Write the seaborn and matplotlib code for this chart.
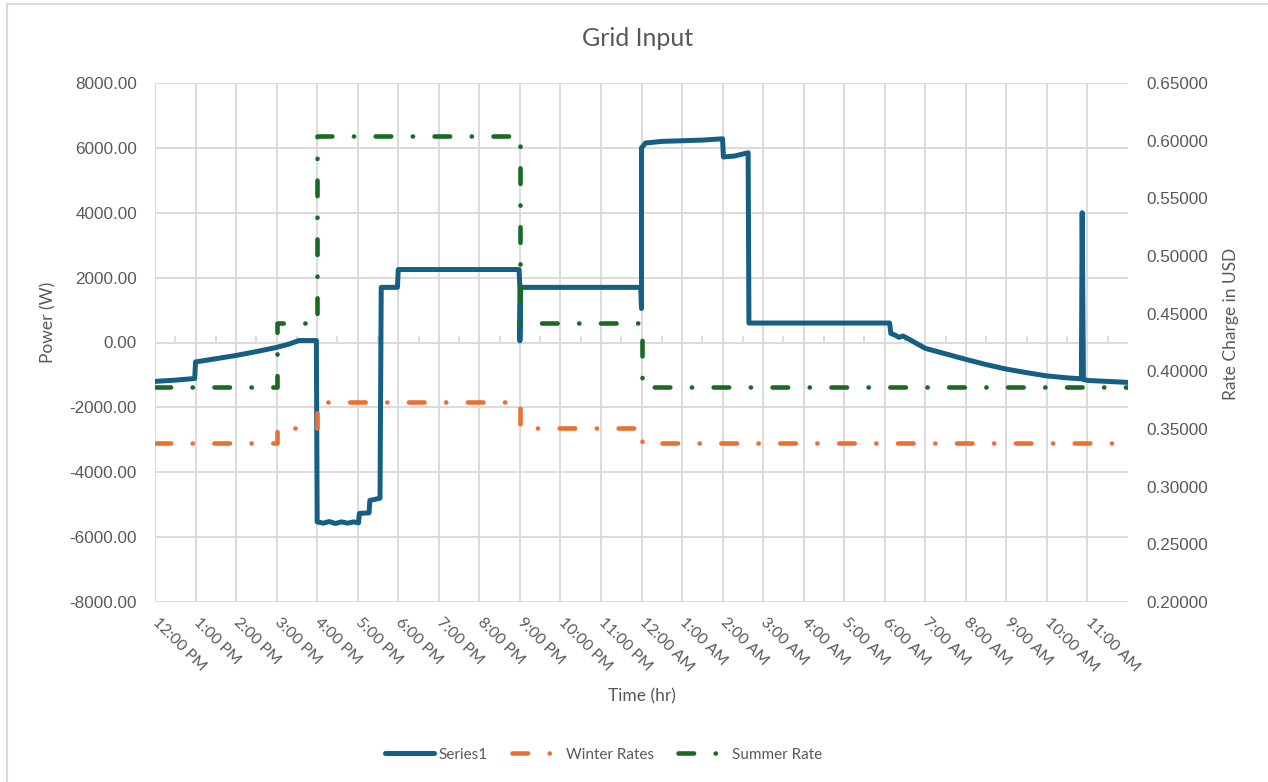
import numpy as np
import pandas as pd
import matplotlib
matplotlib.use("Agg")
import matplotlib.pyplot as plt
import seaborn as sns

# jam sejak 12:00 PM (0 = 12:00 PM, 24 = 12:00 PM besoknya)
jam_series1 = [0.00, 0.50, 0.98, 1.00, 1.50, 2.00, 2.50, 3.00, 3.30, 3.55, 3.75, 3.98,
               4.00, 4.15, 4.30, 4.45, 4.60, 4.75, 4.90, 5.02, 5.04, 5.28, 5.30, 5.55,
               5.58, 5.98, 6.00, 8.98, 9.00, 9.00, 9.02, 11.98, 12.00, 12.00, 12.10,
               12.50, 13.00, 13.50, 14.00, 14.02, 14.30, 14.63, 14.65, 18.12, 18.15,
               18.25, 18.35, 18.45, 18.60, 19.00, 19.50, 20.00, 20.50, 21.00, 21.50,
               22.00, 22.50, 22.85, 22.87, 22.90, 23.00, 23.50, 24.00]
daya_series1 = [-1200, -1160, -1110, -600, -500, -400, -280, -150, -50, 60, 60, 60,
                -5530, -5570, -5520, -5580, -5530, -5570, -5530, -5560, -5270, -5250, -4870, -4800,
                1700, 1700, 2250, 2250, 1700, 50, 1700, 1700, 1050, 6000, 6150,
                6200, 6220, 6240, 6280, 5720, 5750, 5850, 600, 600, 280,
                230, 160, 200, 100, -180, -350, -520, -680, -820, -930,
                -1030, -1090, -1120, 4000, -1140, -1170, -1200, -1230]

jam_tarif = [0, 3, 3, 4, 4, 9, 9, 12, 12, 24]
tarif_winter = [0.338, 0.338, 0.351, 0.351, 0.373, 0.373, 0.351, 0.351, 0.338, 0.338]
tarif_summer = [0.386, 0.386, 0.442, 0.442, 0.604, 0.604, 0.442, 0.442, 0.386, 0.386]

label_jam = ["12:00 PM", "1:00 PM", "2:00 PM", "3:00 PM", "4:00 PM", "5:00 PM",
             "6:00 PM", "7:00 PM", "8:00 PM", "9:00 PM", "10:00 PM", "11:00 PM",
             "12:00 AM", "1:00 AM", "2:00 AM", "3:00 AM", "4:00 AM", "5:00 AM",
             "6:00 AM", "7:00 AM", "8:00 AM", "9:00 AM", "10:00 AM", "11:00 AM"]

biru = "#156082"
oranye = "#E97132"
hijau = "#196B24"
abu = "#595959"
grid = "#d9d9d9"

sns.set_style("white")
plt.rcParams["font.family"] = ["Lato", "DejaVu Sans"]

fig = plt.figure(figsize=(12.68, 7.82), dpi=100)
ax = fig.add_axes([155 / 1268, 1 - 602 / 782, (1128 - 155) / 1268, (602 - 83) / 782])
ax2 = ax.twinx()

# garis
pola = (0, (3.4, 4.7, 0.05, 4.7))
sns.lineplot(x=jam_series1, y=daya_series1, ax=ax, sort=False, estimator=None,
             color=biru, lw=3.6, solid_joinstyle="round", solid_capstyle="round")
sns.lineplot(x=jam_tarif, y=tarif_winter, ax=ax2, sort=False, estimator=None,
             color=oranye, lw=3.3, linestyle=pola, dash_capstyle="round")
sns.lineplot(x=jam_tarif, y=tarif_summer, ax=ax2, sort=False, estimator=None,
             color=hijau, lw=3.3, linestyle=pola, dash_capstyle="round")

# sumbu kiri
ax.set_xlim(0, 24)
ax.set_ylim(-8000, 8000)
ax.set_yticks(np.arange(-8000, 8001, 2000))
ax.set_yticklabels([f"{v:.2f}" for v in np.arange(-8000, 8001, 2000)],
                   family="Liberation Sans", fontsize=12.3, color=abu)
ax.set_xticks(range(24))
ax.set_xticklabels(label_jam, rotation=-45, ha="left", va="center",
                   rotation_mode="anchor", fontsize=11.3, color=abu)
ax.tick_params(axis="x", length=0, pad=13)
ax.tick_params(axis="y", length=0, pad=13)
ax.grid(True, color=grid, lw=1.3)
ax.set_axisbelow(True)
for s in ax.spines.values():
    s.set_visible(False)
ax.set_xlabel("")
ax.set_ylabel("")

# sumbu kanan
ax2.set_ylim(0.20, 0.65)
ax2.set_yticks(np.arange(0.20, 0.651, 0.05))
ax2.set_yticklabels([f"{v:.5f}" for v in np.arange(0.20, 0.651, 0.05)],
                    family="Liberation Sans", fontsize=12.3, color=abu)
ax2.tick_params(axis="y", length=0, pad=13)
ax2.grid(False)
for s in ax2.spines.values():
    s.set_visible(False)
ax2.set_ylabel("")

# tick kecil di garis nol
sec = ax.secondary_xaxis(0.5)
sec.set_xticks(np.arange(0.5, 24, 1))
sec.xaxis.set_ticks_position("top")
sec.tick_params(axis="x", direction="out", length=4, width=1.3, color=grid,
                labeltop=False, labelbottom=False)
for s in sec.spines.values():
    s.set_visible(False)

# teks
fig.text(0.503, 0.951, "Grid Input", ha="center", va="center", fontsize=18, color=abu)
fig.text(0.506, 0.109, "Time (hr)", ha="center", va="center", fontsize=12.5, color=abu)
fig.text(0.038, 0.588, "Power (W)", ha="center", va="center", rotation=90,
         fontsize=12.5, color=abu)
fig.text(0.971, 0.586, "Rate Charge in USD", ha="center", va="center", rotation=90,
         fontsize=12.5, color=abu)

# legenda
garis = ax.get_lines()[:1] + ax2.get_lines()[:2]
fig.legend(garis, ["Series1", "Winter Rates", "Summer Rate"], loc="center",
           bbox_to_anchor=(0.476, 0.035), ncol=3, frameon=False, fontsize=11,
           handlelength=3.2, handletextpad=0.3, columnspacing=1.6, labelcolor=abu)

# bingkai chart
fig.add_artist(plt.Line2D([7 / 1268, 7 / 1268], [0, 1 - 4 / 782], color=grid, lw=1.5))
fig.add_artist(plt.Line2D([7 / 1268, 1], [1 - 4 / 782, 1 - 4 / 782], color=grid, lw=1.5))

fig.savefig("out.png", dpi=100)
